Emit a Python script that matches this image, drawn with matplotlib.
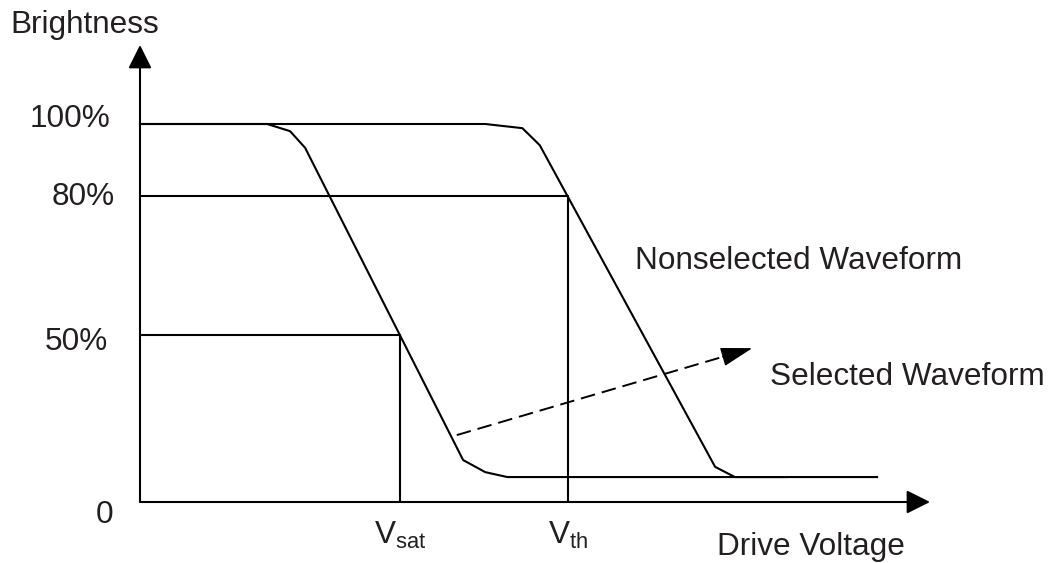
import matplotlib
matplotlib.use("Agg")
import matplotlib.pyplot as plt

plt.rcParams["font.family"] = ["Liberation Sans", "DejaVu Sans"]
plt.rcParams["mathtext.fontset"] = "custom"
plt.rcParams["mathtext.rm"] = "Liberation Sans"

# selected waveform (left curve): drive voltage vs brightness %
sel_v = [0, 1.61, 1.90, 2.09, 4.09, 4.37, 4.65, 8.19]
sel_b = [100, 100, 98.1, 93.7, 11.1, 7.9, 6.6, 6.6]

# nonselected waveform (right curve)
non_v = [0, 4.37, 4.84, 5.06, 7.28, 7.53, 9.33]
non_b = [100, 100, 98.9, 94.4, 9.3, 6.6, 6.6]

v_sat = 3.29
v_th = 5.42
b_sat = 44.2
b_th = 81.0

tick_labels = ["100%", "80%", "50%"]

# dashed arrow between the curves
arrow_start = (4.01, 17.7)
arrow_end = (7.75, 40.7)

txt_color = "#231f20"
fs = 22.7
lw = 1.5

fig = plt.figure(figsize=(10.54, 5.63), dpi=100)
ax = fig.add_axes([140 / 1054, 61 / 563, 790 / 1054, 457 / 563])
ax.set_xlim(0, 10)
ax.set_ylim(0, 120.9)
ax.axis("off")

ax.plot(sel_v, sel_b, color="black", lw=lw, clip_on=False)
ax.plot(non_v, non_b, color="black", lw=lw, clip_on=False)

# guide lines for Vsat / Vth
ax.plot([0, v_sat, v_sat], [b_sat, b_sat, 0], color="black", lw=lw)
ax.plot([0, v_th, v_th], [b_th, b_th, 0], color="black", lw=lw)

# axes with arrow heads
head = "-|>,head_length=0.72,head_width=0.36"
ax.annotate("", xy=(0, 1), xytext=(0, 0), xycoords="axes fraction",
            arrowprops=dict(arrowstyle=head, color="black", lw=lw,
                            shrinkA=0, shrinkB=0, mutation_scale=20))
ax.annotate("", xy=(1, 0), xytext=(0, 0), xycoords="axes fraction",
            arrowprops=dict(arrowstyle=head, color="black", lw=lw,
                            shrinkA=0, shrinkB=0, mutation_scale=20))

# dashed arrow: dashed shaft + solid head
dx = arrow_end[0] - arrow_start[0]
dy = arrow_end[1] - arrow_start[1]
mid = (arrow_start[0] + 0.9 * dx, arrow_start[1] + 0.9 * dy)
ax.plot([arrow_start[0], mid[0]], [arrow_start[1], mid[1]], color="black",
        lw=1.4, linestyle=(0, (7.5, 3.6)))
ax.annotate("", xy=arrow_end, xytext=mid,
            arrowprops=dict(arrowstyle="-|>,head_length=1.0,head_width=0.3",
                            color="black", lw=1.0, shrinkA=0, shrinkB=0,
                            mutation_scale=20))

# y labels
ax.text(-0.38, 99.2, tick_labels[0], ha="right", va="baseline", fontsize=fs, color=txt_color)
ax.text(-0.316, 78.6, tick_labels[1], ha="right", va="baseline", fontsize=fs, color=txt_color)
ax.text(-0.405, 40.2, tick_labels[2], ha="right", va="baseline", fontsize=fs, color=txt_color)
ax.text(-0.443, -5.56, "0", ha="center", va="baseline", fontsize=fs, color=txt_color)

ax.text(-1.646, 124.1, "Brightness", ha="left", va="baseline", fontsize=fs, color=txt_color)
ax.text(9.68, -14.0, "Drive Voltage", ha="right", va="baseline", fontsize=fs, color=txt_color)
ax.text(v_sat, -11.1, r"$\mathrm{V_{sat}}$", ha="center", va="baseline", fontsize=fs, color=txt_color)
ax.text(v_th, -11.1, r"$\mathrm{V_{th}}$", ha="center", va="baseline", fontsize=fs, color=txt_color)

ax.text(6.27, 61.6, "Nonselected Waveform", ha="left", va="baseline", fontsize=fs, color=txt_color)
ax.text(7.97, 30.95, "Selected Waveform", ha="left", va="baseline", fontsize=fs, color=txt_color)

fig.savefig("out.png", dpi=100)
